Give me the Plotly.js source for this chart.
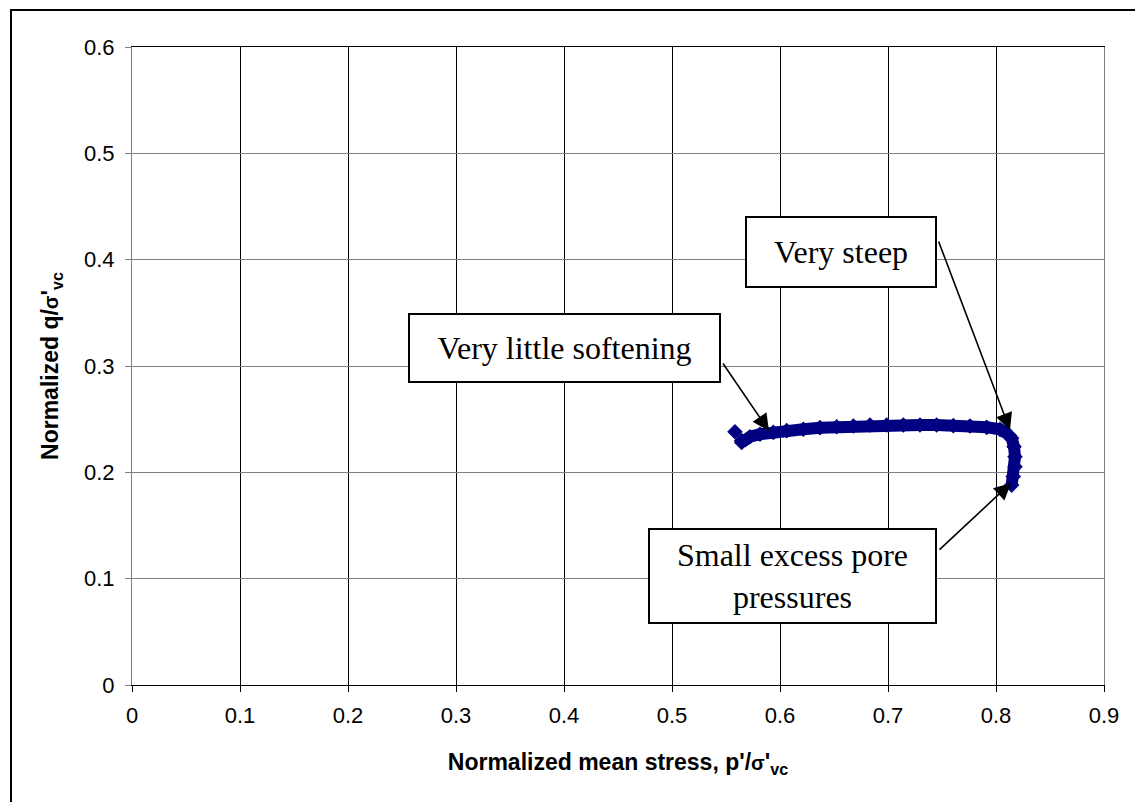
<!DOCTYPE html>
<html>
<head>
<meta charset="utf-8">
<script src="https://cdn.plot.ly/plotly-3.0.1.min.js"></script>
<style>
  html, body { margin: 0; padding: 0; background: #fff; }
  #chart { width: 1135px; height: 802px; position: relative; }
  #frame { position: absolute; left: 10px; top: 9px; width: 1200px; height: 900px;
           border-left: 2px solid #000; border-top: 2px solid #000; pointer-events: none; }
  #wrap { position: relative; width: 1135px; height: 802px; overflow: hidden; }
</style>
</head>
<body>
<div id="wrap">
  <div id="chart"></div>
  <div id="frame"></div>
</div>
<script>
// Stress path (normalized mean stress p'/σ'vc vs normalized q/σ'vc)
const pNorm = [0.8145, 0.8160, 0.8176, 0.8176, 0.8167, 0.8145, 0.8099, 0.8037, 0.7914, 0.7759,
               0.7605, 0.7450, 0.7296, 0.7142, 0.6988, 0.6833, 0.6679, 0.6525, 0.6370, 0.6216,
               0.6062, 0.5938, 0.5815, 0.5722, 0.5645, 0.5645, null, 0.5583];
const qNorm = [0.1880, 0.1960, 0.2053, 0.2147, 0.2241, 0.2320, 0.2367, 0.2404, 0.2423, 0.2436,
               0.2439, 0.2445, 0.2445, 0.2445, 0.2445, 0.2445, 0.2436, 0.2429, 0.2420, 0.2405,
               0.2392, 0.2376, 0.2358, 0.2335, 0.2298, 0.2280, null, 0.2382];

const xTicks = [0, 0.1, 0.2, 0.3, 0.4, 0.5, 0.6, 0.7, 0.8, 0.9];
const xTickLabels = ['0', '0.1', '0.2', '0.3', '0.4', '0.5', '0.6', '0.7', '0.8', '0.9'];
const yTicks = [0, 0.1, 0.2, 0.3, 0.4, 0.5, 0.6];
const yTickLabels = ['0', '0.1', '0.2', '0.3', '0.4', '0.5', '0.6'];

const navy = '#000080';
const serif = 'Liberation Serif, Times New Roman, serif';
const sans = 'Liberation Sans, Arial, sans-serif';

const trace = {
  x: pNorm, y: qNorm, type: 'scatter', mode: 'lines+markers',
  line: { color: navy, width: 12 },
  marker: { symbol: 'diamond', size: 12, color: navy },
  connectgaps: false, hoverinfo: 'skip', showlegend: false
};

const boxStyle = {
  showarrow: false, bgcolor: '#fff', bordercolor: '#000', borderwidth: 2, borderpad: 0,
  font: { family: serif, size: 32, color: '#000' }, xref: 'x', yref: 'y'
};
const arrowStyle = {
  text: '', showarrow: true, arrowhead: 2, arrowsize: 2.1, arrowwidth: 1.6, arrowcolor: '#000',
  xref: 'x', yref: 'y', axref: 'pixel', ayref: 'pixel', standoff: 0
};

const layout = {
  width: 1135, height: 802,
  margin: { l: 132, r: 31, t: 47, b: 117, pad: 0 },
  paper_bgcolor: '#fff', plot_bgcolor: '#fff',
  font: { family: sans, color: '#000' },
  xaxis: {
    range: [0, 0.9], tickvals: xTicks, ticktext: xTickLabels,
    showgrid: true, gridcolor: '#000', gridwidth: 1, zeroline: false,
    showline: true, mirror: true, linecolor: '#000', linewidth: 1,
    ticks: 'outside', ticklen: 6, tickcolor: '#000', ticklabelstandoff: 5,
    tickfont: { family: sans, size: 22, color: '#000' },
    title: { text: "<b>Normalized mean stress, p'/<span style=\"font-size:20px\">σ</span>'<sub>vc</sub></b>",
             font: { family: sans, size: 23, color: '#000' }, standoff: 26 }
  },
  yaxis: {
    range: [0, 0.6], tickvals: yTicks, ticktext: yTickLabels,
    showgrid: true, gridcolor: '#808080', gridwidth: 1, zeroline: false,
    showline: true, mirror: true, linecolor: '#808080', linewidth: 1,
    ticks: 'outside', ticklen: 6, tickcolor: '#808080', ticklabelstandoff: 6,
    tickfont: { family: sans, size: 22, color: '#000' },
    title: { text: "<b>Normalized q/<span style=\"font-size:20px\">σ</span>'<sub>vc</sub></b>",
             font: { family: sans, size: 23, color: '#000' }, standoff: 18 }
  },
  annotations: [
    Object.assign({}, boxStyle, { x: 0.6565, y: 0.4072, text: 'Very steep', width: 188, height: 68 }),
    Object.assign({}, boxStyle, { x: 0.4009, y: 0.3169, text: 'Very little softening', width: 309, height: 66 }),
    Object.assign({}, boxStyle, { x: 0.6116, y: 0.1025, text: 'Small excess pore<br>pressures', width: 285, height: 92 }),
    Object.assign({}, arrowStyle, { x: 0.8130, y: 0.2398, ax: -72, ay: -190 }),
    Object.assign({}, arrowStyle, { x: 0.5898, y: 0.2389, ax: -47, ay: -69 }),
    Object.assign({}, arrowStyle, { x: 0.8139, y: 0.1900, ax: -73, ay: 68 })
  ]
};

Plotly.newPlot('chart', [trace], layout, { displayModeBar: false, staticPlot: true });
</script>
</body>
</html>
